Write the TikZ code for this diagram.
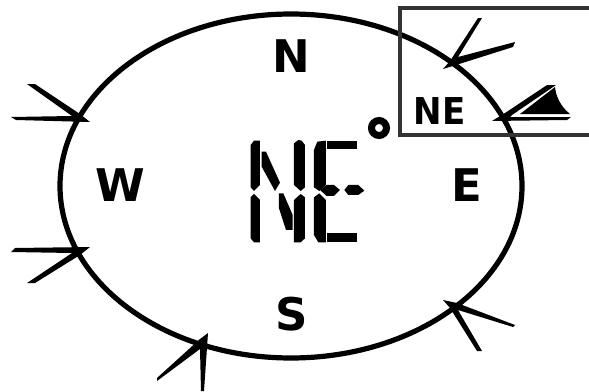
\documentclass[tikz,border=0pt]{standalone}
\usepackage{fontspec}
\setmainfont{DejaVu Sans}
\tikzset{
  ink/.style={fill=black,draw=none},
  bigletter/.style={inner sep=0pt,text=black,font=\bfseries\fontsize{45}{45}\selectfont},
  smallletter/.style={inner sep=0pt,text=black,transform shape,xscale=0.92,font=\bfseries\fontsize{37}{37}\selectfont},
  hiddenletter/.style={inner sep=0pt,opacity=0,font=\bfseries\fontsize{100}{100}\selectfont}
}
\begin{document}
\begin{tikzpicture}[x=1pt,y=-1pt]
\useasboundingbox (0,0) rectangle (589,391);
% dial
\draw[line width=5.2pt,black] (291,186) ellipse [x radius=231,y radius=172];
% inset frame
\draw[line width=4.2pt,color=black!80] (589,8) -- (400,8) -- (400,135) -- (589,135);
% labels
\node[bigletter] (north) at (291,56) {N};
\node[bigletter,anchor=center] (west) at (120.5,185) {W};
\node[bigletter] (east) at (467,185) {E};
\node[bigletter] (south) at (291.5,314) {S};
\node[smallletter] (inset) at (439.5,111) {NE};
% degree mark
\draw[line width=7pt,black] (379,128) circle [radius=7.5];
% wind vanes
\fill[ink] (443,69) -- (450,61) -- (478,18) -- (482,18) -- (458,57) -- (515,42) -- (513,47) -- (456,65) -- cycle;
\fill[ink] (90,122) -- (80,114) -- (35,84) -- (27,84) -- (72,116) -- (11,117) -- (16,120) -- cycle;
\fill[ink] (90,247) -- (15,248) -- (11,252) -- (72,253) -- (27,283) -- (35,283) -- (80,255) -- cycle;
\fill[ink] (208,333) -- (200,339) -- (157,378) -- (157,381) -- (200,349) -- (201,391) -- (204,391) -- cycle;
\fill[ink] (443,300) -- (457,303) -- (515,325) -- (513,327) -- (458,310) -- (482,351) -- (477,351) -- (450,308) -- cycle;
% east vane with filled feather
\fill[ink] (492,121) -- (505,113) -- (547,85) -- (556,85) -- (512,115) -- (510,117) -- (571,117) -- (567,120) -- cycle;
\fill[ink] (520,114) -- (555,87) .. controls (556,96) and (560,106) .. (570,114) -- cycle;
% large segmented reading
\begin{scope}[shift={(230,110)},x=0.3333pt,y=-0.3333pt]
\fill[ink] (62,105) -- (72,92) -- (90,92) -- (90,225) -- (72,243) -- (62,232) -- cycle;
\fill[ink] (62,262) -- (72,252) -- (90,270) -- (90,397) -- (72,397) -- (62,385) -- cycle;
\fill[ink] (95,125) -- (108,125) -- (150,218) -- (135,243) -- (95,170) -- cycle;
\fill[ink] (147,250) -- (160,250) -- (188,315) -- (188,360) -- (168,360) -- (147,295) -- cycle;
\fill[ink] (192,100) -- (205,90) -- (215,92) -- (225,105) -- (225,232) -- (212,243) -- (192,225) -- cycle;
\fill[ink] (192,270) -- (212,252) -- (225,262) -- (225,385) -- (212,397) -- (192,397) -- cycle;
\fill[ink] (252,120) -- (262,95) -- (288,92) -- (288,225) -- (268,243) -- (252,232) -- cycle;
\fill[ink] (252,262) -- (268,250) -- (288,270) -- (288,397) -- (265,397) -- (252,375) -- cycle;
\fill[ink] (292,92) -- (382,92) -- (382,118) -- (292,118) -- cycle;
\fill[ink] (292,368) -- (382,368) -- (382,397) -- (292,397) -- cycle;
\fill[ink] (270,240) -- (290,225) -- (312,225) -- (330,240) -- (312,258) -- (290,258) -- cycle;
\fill[ink] (343,240) -- (355,225) -- (385,225) -- (403,242) -- (385,255) -- (355,255) -- cycle;
\end{scope}
\node[hiddenletter] (reading) at (306,192) {NE};
\end{tikzpicture}
\end{document}
